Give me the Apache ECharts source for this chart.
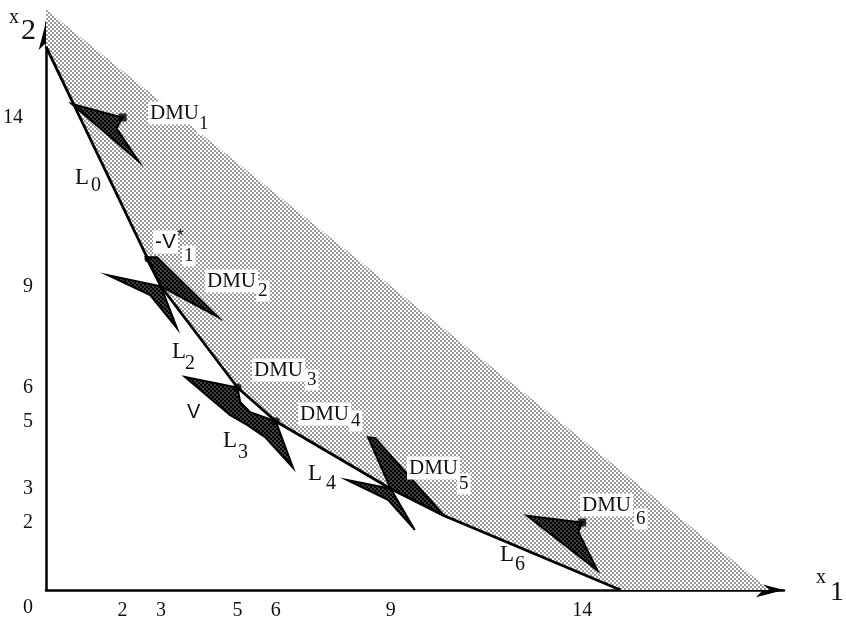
<!DOCTYPE html>
<html>
<head>
<meta charset="utf-8">
<script src="https://cdn.jsdelivr.net/npm/echarts@6/dist/echarts.min.js"></script>
<style>
  html, body { margin: 0; padding: 0; background: #fff; }
  #chart { width: 846px; height: 627px; }
</style>
</head>
<body>
<div id="chart"></div>
<script>
// ---- values ----
const xTicks = [2, 3, 5, 6, 9, 14];
const yTicks = [0, 2, 3, 5, 6, 9, 14];

// observed units (input x1, input x2)
const dmuX1 = [2, 3, 5, 6, 9, 14];
const dmuX2 = [14, 9, 6, 5, 3, 2];
const dmuSymbol = ['rect', 'none', 'circle', 'circle', 'none', 'rect'];

// projection point -V*1 on segment L0
const vStar = [2.65, 9.8];

// piecewise-linear efficient frontier
const frontierX1 = [0, 3, 5, 6, 9, 10.4, 15];
const frontierX2 = [16.1, 9, 6, 5, 3, 2.2, 0];

// outer corners of the shaded (dominated) region
const shadeTop = [0, 17.2];
const shadeRight = [18.9, 0];

// dark cone wedges attached to each unit, as vertex lists (x1, x2)
const coneDMU1 = [[0.68, 14.4], [2, 14], [1.84, 13.68], [2.42, 12.7]];
const coneDMU2a = [[2.6, 9.86], [2.9, 9.86], [4.49, 8.09], [3, 9]];
const coneDMU2b = [[1.62, 9.33], [3, 9], [3.42, 7.76], [2.72, 8.74]];
const coneDMU34 = [[3.63, 6.31], [5, 6], [5.07, 5.57], [5.33, 5.27], [6, 5], [6.45, 3.62],
                   [5.72, 4.53], [5.25, 4.89], [4.8, 5.19]];
const coneDMU5a = [[8.41, 4.53], [8.6, 4.5], [10.4, 2.2], [9, 3]];
const coneDMU5b = [[7.86, 3.26], [9, 3], [9.63, 1.78], [8.93, 2.67]];
const coneDMU6 = [[12.56, 2.2], [14, 2], [13.9, 1.72], [14.4, 0.58]];

// ---- build ----
const frontier = frontierX1.map((x, i) => [x, frontierX2[i]]);
const shadePoly = [shadeTop, shadeRight].concat(frontier.slice().reverse());
const cones = [coneDMU1, coneDMU2a, coneDMU2b, coneDMU34, coneDMU5a, coneDMU5b, coneDMU6];

function stipple(dark, light) {
  const c = document.createElement('canvas');
  c.width = 4; c.height = 4;
  const g = c.getContext('2d');
  g.fillStyle = light; g.fillRect(0, 0, 4, 4);
  g.fillStyle = dark; g.fillRect(0, 0, 2, 2); g.fillRect(2, 2, 2, 2);
  return c;
}
const lightDots = { image: stipple('#9a9a9a', '#ffffff'), repeat: 'repeat' };
const darkDots = { image: stipple('#000000', '#404040'), repeat: 'repeat' };

function polygonSeries(polys, style, z) {
  return {
    type: 'custom',
    coordinateSystem: 'cartesian2d',
    clip: false,
    silent: true,
    z: z,
    data: polys.map(p => p[0]),
    renderItem: function (params, api) {
      const pts = polys[params.dataIndex].map(p => api.coord(p));
      return { type: 'polygon', shape: { points: pts }, style: style };
    }
  };
}

const SERIF = '"Liberation Serif", "Times New Roman", serif';
const SANS = '"Liberation Sans", Arial, sans-serif';

// text annotations: [text, left, middleY, font, white background]
const notes = [
  ['DMU', 148, 113, '21px ' + SERIF, true], ['1', 197, 124, '19px ' + SERIF, true],
  ['DMU', 205, 281, '21px ' + SERIF, true], ['2', 256, 291, '19px ' + SERIF, true],
  ['DMU', 252, 370, '21px ' + SERIF, true], ['3', 305, 380, '19px ' + SERIF, true],
  ['DMU', 298, 414, '21px ' + SERIF, true], ['4', 349, 421, '19px ' + SERIF, true],
  ['DMU', 407, 468, '21px ' + SERIF, true], ['5', 457, 484, '19px ' + SERIF, true],
  ['DMU', 580, 505, '21px ' + SERIF, true], ['6', 634, 519, '19px ' + SERIF, true],
  ['-V', 153, 242, '21px ' + SANS, true], ['*', 177, 236, '17px ' + SANS, false], ['1', 182, 256, '19px ' + SERIF, true],
  ['V', 187, 412, '20px ' + SANS, false],
  ['L', 75, 178, '23px ' + SERIF, false], ['0', 91, 186, '20px ' + SERIF, false],
  ['L', 172, 352, '23px ' + SERIF, false], ['2', 185, 364, '20px ' + SERIF, false],
  ['L', 223, 441, '23px ' + SERIF, false], ['3', 238, 453, '20px ' + SERIF, false],
  ['L', 308, 474, '23px ' + SERIF, false], ['4', 326, 484, '20px ' + SERIF, false],
  ['L', 500, 555, '23px ' + SERIF, false], ['6', 515, 565, '20px ' + SERIF, false],
  ['x', 9, 18, '20px ' + SERIF, false], ['2', 21, 31, '30px ' + SERIF, false],
  ['x', 816, 578, '20px ' + SERIF, false], ['1', 830, 593, '28px ' + SERIF, false]
];

const graphic = notes.map(n => ({
  type: 'text',
  x: n[1], y: n[2], z: 100,
  style: Object.assign({
    text: n[0], font: n[3], fill: '#111', align: 'left', verticalAlign: 'middle'
  }, n[4] ? { backgroundColor: '#fff', padding: [1, 2, 1, 2] } : {})
}));

const chart = echarts.init(document.getElementById('chart'), null, { renderer: 'canvas' });
chart.setOption({
  animation: false,
  backgroundColor: '#fff',
  grid: { left: 46, right: 62, top: 22, bottom: 37, containLabel: false },
  xAxis: {
    type: 'value', min: 0, max: 19.27, interval: 1,
    splitLine: { show: false }, axisTick: { show: false },
    axisLine: { lineStyle: { color: '#000', width: 2.5 }, symbol: ['none', 'arrow'], symbolSize: [11, 28] },
    axisLabel: {
      margin: 11, color: '#111', fontFamily: SERIF, fontSize: 20,
      showMaxLabel: false,
      formatter: v => xTicks.includes(v) ? String(v) : ''
    }
  },
  yAxis: {
    type: 'value', min: 0, max: 16.83, interval: 1,
    splitLine: { show: false }, axisTick: { show: false },
    axisLine: { lineStyle: { color: '#000', width: 2.5 }, symbol: ['none', 'arrow'], symbolSize: [11, 28] },
    axisLabel: {
      margin: 13, color: '#111', fontFamily: SERIF, fontSize: 20,
      showMaxLabel: false,
      formatter: v => {
        if (!yTicks.includes(v)) return '';
        if (v === 0) return '{z|0}';
        if (v === 14) return '{w|14}';
        return String(v);
      },
      rich: {
        z: { fontFamily: SERIF, fontSize: 20, color: '#111', padding: [36, 0, 0, 0] },
        w: { fontFamily: SERIF, fontSize: 20, color: '#111', padding: [0, 10, 0, 0] }
      }
    }
  },
  graphic: graphic,
  series: [
    polygonSeries([shadePoly], { fill: lightDots, stroke: 'none' }, 1),
    polygonSeries(cones, { fill: darkDots, stroke: '#000', lineWidth: 2, lineJoin: 'miter' }, 3),
    {
      type: 'line', data: frontier, symbol: 'none', z: 4, silent: true,
      lineStyle: { color: '#000', width: 2.8 }
    },
    {
      type: 'scatter', z: 5, silent: true,
      data: dmuX1.map((x, i) => ({ value: [x, dmuX2[i]], symbol: dmuSymbol[i] })),
      symbolSize: 8, itemStyle: { color: '#000' }
    },
    {
      type: 'scatter', z: 5, silent: true, data: [vStar],
      symbol: 'circle', symbolSize: 6, itemStyle: { color: '#000' }
    }
  ]
});
</script>
</body>
</html>
